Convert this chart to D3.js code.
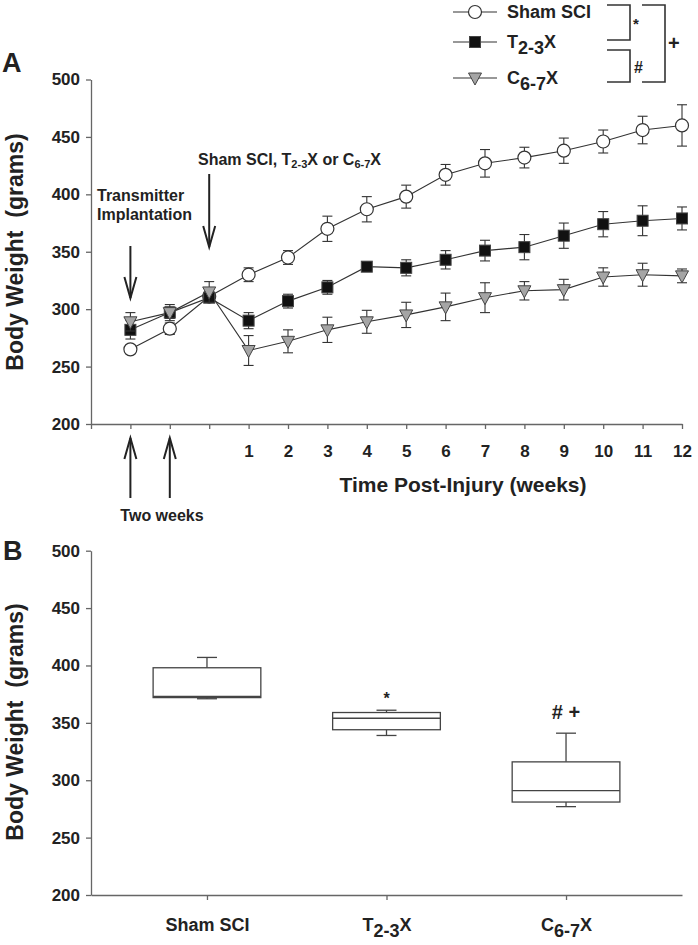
<!DOCTYPE html>
<html>
<head>
<meta charset="utf-8">
<script src="https://cdn.jsdelivr.net/npm/d3@7"></script>
<style>
  body { margin: 0; background: #fff; }
  text { font-family: "Liberation Sans", Arial, sans-serif; font-weight: bold; fill: #222; }
  .axis path, .axis line { stroke: #666; stroke-width: 1.3; }
</style>
</head>
<body>
<svg width="698" height="945"></svg>
<script>
// panel A: time course (slot 1-3 = pre-injury, 4-15 = weeks 1-12)
var timeSlots = [1, 2, 3, 4, 5, 6, 7, 8, 9, 10, 11, 12, 13, 14, 15];
var slotLabels = ["", "", "", "", "1", "2", "3", "4", "5", "6", "7", "8", "9", "10", "11", "12"];
var shamMean = [265, 283, 311, 330, 345, 370, 387, 398, 417, 427, 432, 438, 446, 456, 460];
var shamErr  = [3, 5, 4, 6, 6, 11, 11, 10, 9, 12, 9, 11, 10, 12, 18];
var t23Mean  = [282, 297, 310, 290, 307, 319, 337, 336, 343, 351, 354, 364, 374, 377, 379];
var t23Err   = [8, 7, 4, 7, 6, 6, 4, 7, 8, 9, 11, 11, 11, 13, 10];
var c67Mean  = [289, 297, 315, 264, 272, 282, 289, 295, 302, 310, 316, 317, 328, 330, 329];
var c67Err   = [8, 5, 9, 13, 10, 11, 10, 11, 12, 13, 8, 9, 8, 10, 6];
var yTicks = [200, 250, 300, 350, 400, 450, 500];

// panel B: box plots
var groups    = ["Sham SCI", "T2-3X", "C6-7X"];
var boxMin    = [371, 339, 277];
var boxQ1     = [372, 344, 281];
var boxMedian = [373, 354, 291];
var boxQ3     = [398, 359, 316];
var boxMax    = [407, 361, 341];
var boxMarks  = ["", "*", "# +"];

var svg = d3.select("svg");

// write "T2-3X" style labels with a lowered subscript
function subLabel(sel, name, subSize, shift) {
  var m = name.match(/^([A-Z])(\d-\d)(X)$/);
  if (!m) { sel.text(name); return; }
  sel.append("tspan").text(m[1]);
  sel.append("tspan").text(m[2]).style("font-size", subSize + "px").attr("dy", shift);
  sel.append("tspan").text(m[3]).attr("dy", -shift);
}

function arrow(g, x, y1, y2) {
  var dir = y2 > y1 ? 1 : -1;
  g.append("line").attr("x1", x).attr("x2", x).attr("y1", y1).attr("y2", y2)
    .attr("stroke", "#222").attr("stroke-width", 2);
  g.append("path")
    .attr("d", "M" + (x - 6) + "," + (y2 - dir * 21) + "L" + x + "," + y2 + "L" + (x + 6) + "," + (y2 - dir * 21))
    .attr("fill", "none").attr("stroke", "#222").attr("stroke-width", 2);
}

function drawMarker(g, type, cx, cy) {
  if (type === "circle") {
    g.append("circle").attr("cx", cx).attr("cy", cy).attr("r", 6.5)
      .attr("fill", "#fff").attr("stroke", "#333").attr("stroke-width", 1.2);
  } else if (type === "square") {
    g.append("rect").attr("x", cx - 5.5).attr("y", cy - 5.5).attr("width", 11).attr("height", 11)
      .attr("fill", "#111").attr("stroke", "#444").attr("stroke-width", 1);
  } else {
    g.append("path").attr("d", "M" + (cx - 6.5) + "," + (cy - 5) + "L" + (cx + 6.5) + "," + (cy - 5) + "L" + cx + "," + (cy + 7) + "Z")
      .attr("fill", "#a5a5a5").attr("stroke", "#444").attr("stroke-width", 1);
  }
}

// ---------- Panel A ----------
var xA = d3.scaleLinear().domain([0, 15]).range([91, 682]);
var yA = d3.scaleLinear().domain([200, 500]).range([424, 79.5]);

var gA = svg.append("g");

gA.append("g").attr("class", "axis")
  .attr("transform", "translate(91,0)")
  .call(d3.axisLeft(yA).tickValues(yTicks).tickSize(5).tickSizeOuter(0).tickPadding(6))
  .selectAll("text").style("font-size", "17px").attr("fill", "#222");

gA.append("g").attr("class", "axis")
  .attr("transform", "translate(0,424)")
  .call(d3.axisBottom(xA).tickValues(d3.range(0, 16)).tickSize(5).tickSizeOuter(0).tickPadding(16)
    .tickFormat(function(d) { return slotLabels[d]; }))
  .selectAll("text").style("font-size", "17px").attr("fill", "#222");

var series = [
  {mean: shamMean, err: shamErr, type: "circle"},
  {mean: t23Mean, err: t23Err, type: "square"},
  {mean: c67Mean, err: c67Err, type: "triangle"}
];

var line = d3.line().x(function(d) { return xA(d.x); }).y(function(d) { return yA(d.y); });

series.forEach(function(s) {
  var pts = timeSlots.map(function(t, i) { return {x: t, y: s.mean[i], e: s.err[i]}; });
  gA.append("path").datum(pts).attr("d", line)
    .attr("fill", "none").attr("stroke", "#333").attr("stroke-width", 1.1);
});

series.forEach(function(s) {
  var pts = timeSlots.map(function(t, i) { return {x: t, y: s.mean[i], e: s.err[i]}; });
  var eb = gA.append("g").attr("stroke", "#333").attr("stroke-width", 1.1);
  pts.forEach(function(p) {
    var cx = xA(p.x);
    eb.append("line").attr("x1", cx).attr("x2", cx).attr("y1", yA(p.y - p.e)).attr("y2", yA(p.y + p.e));
    eb.append("line").attr("x1", cx - 5).attr("x2", cx + 5).attr("y1", yA(p.y + p.e)).attr("y2", yA(p.y + p.e));
    eb.append("line").attr("x1", cx - 5).attr("x2", cx + 5).attr("y1", yA(p.y - p.e)).attr("y2", yA(p.y - p.e));
  });
  pts.forEach(function(p) { drawMarker(gA, s.type, xA(p.x), yA(p.y)); });
});

// panel A texts
gA.append("text").attr("x", 2).attr("y", 72).style("font-size", "27px").text("A");
gA.append("text").attr("transform", "translate(23,252) rotate(-90)")
  .attr("text-anchor", "middle").style("font-size", "23px").attr("xml:space", "preserve")
  .text("Body Weight  (grams)");
gA.append("text").attr("x", 463).attr("y", 492).attr("text-anchor", "middle")
  .style("font-size", "21px").text("Time Post-Injury (weeks)");

gA.append("text").attr("x", 97).attr("y", 201).style("font-size", "16px").text("Transmitter");
gA.append("text").attr("x", 97).attr("y", 220).style("font-size", "16px").text("Implantation");
arrow(gA, xA(1), 246, 298);

var injTxt = gA.append("text").attr("x", 198).attr("y", 165).style("font-size", "16px");
injTxt.append("tspan").text("Sham SCI, T");
injTxt.append("tspan").text("2-3").style("font-size", "11px").attr("dy", 3);
injTxt.append("tspan").text("X or C").attr("dy", -3);
injTxt.append("tspan").text("6-7").style("font-size", "11px").attr("dy", 3);
injTxt.append("tspan").text("X").attr("dy", -3);
arrow(gA, xA(3), 174, 247);

arrow(gA, xA(1), 498, 438);
arrow(gA, xA(2), 498, 438);
gA.append("text").attr("x", 162).attr("y", 521).attr("text-anchor", "middle")
  .style("font-size", "16px").text("Two weeks");

// legend
var legY = [12, 42, 78];
var legTypes = ["circle", "square", "triangle"];
var legNames = ["Sham SCI", "T2-3X", "C6-7X"];
var gL = svg.append("g");
legNames.forEach(function(n, i) {
  gL.append("line").attr("x1", 453).attr("x2", 497).attr("y1", legY[i]).attr("y2", legY[i])
    .attr("stroke", "#333").attr("stroke-width", 1.1);
  drawMarker(gL, legTypes[i], 475, legY[i]);
  var t = gL.append("text").attr("x", 507).attr("y", legY[i] + 6).style("font-size", "18px");
  subLabel(t, n, 18, 6);
});
var bracket = function(x1, x2, y1, y2) {
  gL.append("path").attr("d", "M" + x1 + "," + y1 + "H" + x2 + "V" + y2 + "H" + x1)
    .attr("fill", "none").attr("stroke", "#333").attr("stroke-width", 1.6);
};
bracket(607, 630, 5, 40);
bracket(607, 630, 50, 82);
bracket(642, 665, 5, 82);
gL.append("text").attr("x", 633).attr("y", 29).style("font-size", "15px").text("*");
gL.append("text").attr("x", 634).attr("y", 73).style("font-size", "16px").text("#");
gL.append("text").attr("x", 668).attr("y", 50).style("font-size", "20px").text("+");

// ---------- Panel B ----------
var xB = d3.scalePoint().domain(groups).range([91, 682]).padding(0.646);
var yB = d3.scaleLinear().domain([200, 500]).range([895, 550.7]);
var gB = svg.append("g");

gB.append("g").attr("class", "axis")
  .attr("transform", "translate(91,0)")
  .call(d3.axisLeft(yB).tickValues(yTicks).tickSize(5).tickSizeOuter(0).tickPadding(6))
  .selectAll("text").style("font-size", "17px").attr("fill", "#222");

var xAxisB = gB.append("g").attr("class", "axis")
  .attr("transform", "translate(0,895)")
  .call(d3.axisBottom(xB).tickSize(5).tickSizeOuter(0).tickPadding(18).tickFormat(""));
xAxisB.selectAll(".tick").append("text")
  .attr("y", 36).attr("text-anchor", "middle").style("font-size", "18px")
  .each(function(d) { subLabel(d3.select(this), d, 18, 6); });

var boxW = xB.step() * 0.6;
groups.forEach(function(gname, i) {
  var cx = xB(gname);
  var g = gB.append("g").attr("stroke", "#444").attr("stroke-width", 1.3).attr("fill", "none");
  g.append("line").attr("x1", cx).attr("x2", cx).attr("y1", yB(boxMax[i])).attr("y2", yB(boxQ3[i]));
  g.append("line").attr("x1", cx).attr("x2", cx).attr("y1", yB(boxQ1[i])).attr("y2", yB(boxMin[i]));
  g.append("line").attr("x1", cx - 10).attr("x2", cx + 10).attr("y1", yB(boxMax[i])).attr("y2", yB(boxMax[i]));
  g.append("line").attr("x1", cx - 10).attr("x2", cx + 10).attr("y1", yB(boxMin[i])).attr("y2", yB(boxMin[i]));
  g.append("rect").attr("x", cx - boxW / 2).attr("width", boxW)
    .attr("y", yB(boxQ3[i])).attr("height", yB(boxQ1[i]) - yB(boxQ3[i])).attr("fill", "#fff");
  g.append("line").attr("x1", cx - boxW / 2).attr("x2", cx + boxW / 2)
    .attr("y1", yB(boxMedian[i])).attr("y2", yB(boxMedian[i]));
  if (boxMarks[i]) {
    gB.append("text").attr("x", cx).attr("y", yB(boxMax[i]) - (i === 1 ? 6 : 14))
      .attr("text-anchor", "middle").style("font-size", i === 1 ? "16px" : "20px")
      .attr("xml:space", "preserve").text(boxMarks[i]);
  }
});

gB.append("text").attr("x", 3).attr("y", 560).style("font-size", "27px").text("B");
gB.append("text").attr("transform", "translate(23,722) rotate(-90)")
  .attr("text-anchor", "middle").style("font-size", "23px").attr("xml:space", "preserve")
  .text("Body Weight  (grams)");
</script>
</body>
</html>
